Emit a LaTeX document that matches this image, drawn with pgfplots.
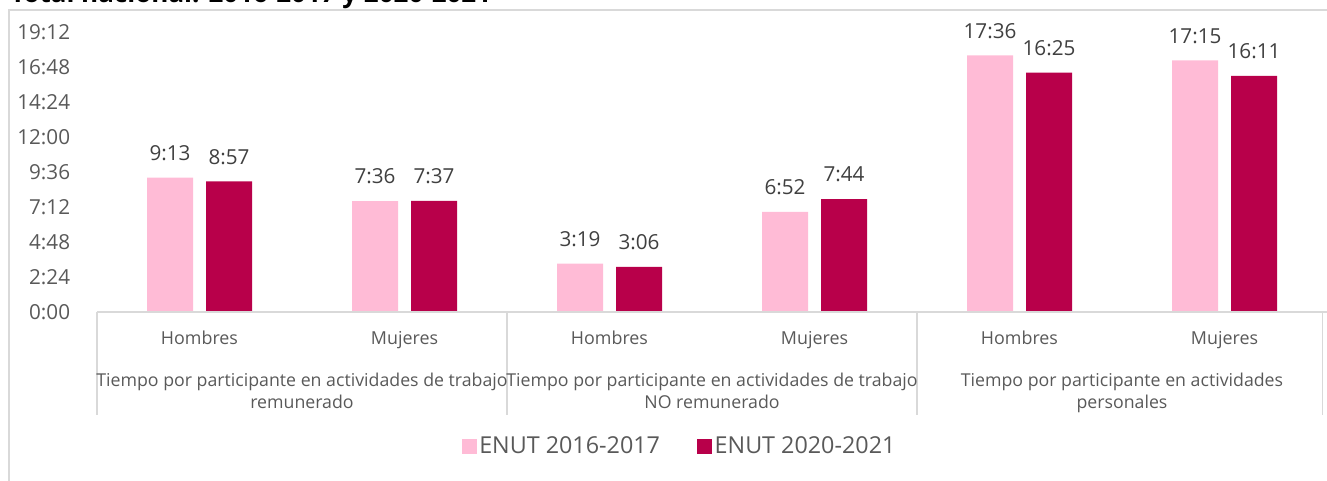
\documentclass[border=0pt]{standalone}
\usepackage{pgfplots}
\pgfplotsset{compat=1.18}
\usepackage{fontspec}
\setmainfont{Open Sans}
\definecolor{pinkc}{HTML}{FFBBD6}
\definecolor{darkc}{HTML}{B8004A}
\definecolor{txt}{HTML}{595959}
\definecolor{lbl}{HTML}{404040}
\definecolor{gridc}{HTML}{D9D9D9}
\pgfplotsset{sqlegend/.style={legend image code/.code={\fill[##1,draw=none] (0pt,-5.5pt) rectangle (11pt,5.5pt);}}}
\tikzset{grp/.style={anchor=base, inner sep=0pt, font=\fontsize{13.3}{16}\selectfont, text=txt}}
\begin{document}
\begin{tikzpicture}
\begin{axis}[
  at={(0,0)}, anchor=south west,
  scale only axis, width=922.5pt, height=210pt,
  xmin=-0.5, xmax=5.5, ymin=0, ymax=19.2,
  ybar=9.75pt, bar width=34.5pt,
  clip=false,
  axis line style={draw=none},
  major tick length=0pt,
  xtick pos=bottom, ytick pos=left,
  xtick={0,1,2,3,4,5},
  xticklabels={Hombres,Mujeres,Hombres,Mujeres,Hombres,Mujeres},
  ytick={0,2.4,4.8,7.2,9.6,12,14.4,16.8,19.2},
  yticklabels={0:00,2:24,4:48,7:12,9:36,12:00,14:24,16:48,19:12},
  yticklabel style={font=\fontsize{15.5}{18}\selectfont, text=txt, anchor=east, inner sep=0pt, xshift=-20pt},
  xticklabel style={font=\fontsize{13.4}{16}\selectfont, text=txt, anchor=base, inner sep=0pt, yshift=-24pt},
  point meta=explicit symbolic,
  nodes near coords,
  nodes near coords style={font=\fontsize{15.5}{18}\selectfont, text=lbl, anchor=south, inner sep=0pt, yshift=12.5pt},
  legend columns=2,
  legend style={at={(0.474,-0.48)}, anchor=center, draw=none, fill=none,
    font=\fontsize{17.5}{21}\selectfont, text=txt,
    /tikz/every even column/.append style={column sep=26pt}},
]
\addplot[fill=pinkc, draw=none, sqlegend] coordinates {
  (0,9.2167) [9:13] (1,7.6) [7:36] (2,3.3167) [3:19]
  (3,6.8667) [6:52] (4,17.6) [17:36] (5,17.25) [17:15]};
\addplot[fill=darkc, draw=none, sqlegend] coordinates {
  (0,8.95) [8:57] (1,7.6167) [7:37] (2,3.1) [3:06]
  (3,7.7333) [7:44] (4,16.4167) [16:25] (5,16.1833) [16:11]};
\legend{ENUT 2016-2017, ENUT 2020-2021}
\draw[gridc, line width=1pt] (axis cs:-0.5,0) -- (axis cs:5.5,0);
\draw[gridc, line width=0.8pt] (axis cs:-0.5,0) -- ++(0pt,-77.25pt);
\draw[gridc, line width=0.8pt] (axis cs:1.5,0) -- ++(0pt,-77.25pt);
\draw[gridc, line width=0.8pt] (axis cs:3.5,0) -- ++(0pt,-77.25pt);
\draw[gridc, line width=0.8pt] (axis cs:5.48,0) -- ++(0pt,-77.25pt);
\node[grp] at ([yshift=-55.5pt]axis cs:0.5,0) {Tiempo por participante en actividades de trabajo};
\node[grp] at ([yshift=-72pt]axis cs:0.5,0) {remunerado};
\node[grp] at ([yshift=-55.5pt]axis cs:2.5,0) {Tiempo por participante en actividades de trabajo};
\node[grp] at ([yshift=-72pt]axis cs:2.5,0) {NO remunerado};
\node[grp] at ([yshift=-55.5pt]axis cs:4.5,0) {Tiempo por participante en actividades};
\node[grp] at ([yshift=-72pt]axis cs:4.5,0) {personales};
\end{axis}
\draw[gridc, line width=0.8pt] (960pt,226.5pt) -- (-66pt,226.5pt) -- (-66pt,-140pt);
\node[anchor=base west, inner sep=0pt, font=\fontsize{19.5}{22}\selectfont\bfseries, text=black] at (-65.25pt,232pt) {Total nacional. 2016-2017 y 2020-2021};
\pgfresetboundingbox
\useasboundingbox (-72.75pt,-126.75pt) rectangle (922.5pt,234pt);
\end{tikzpicture}
\end{document}
